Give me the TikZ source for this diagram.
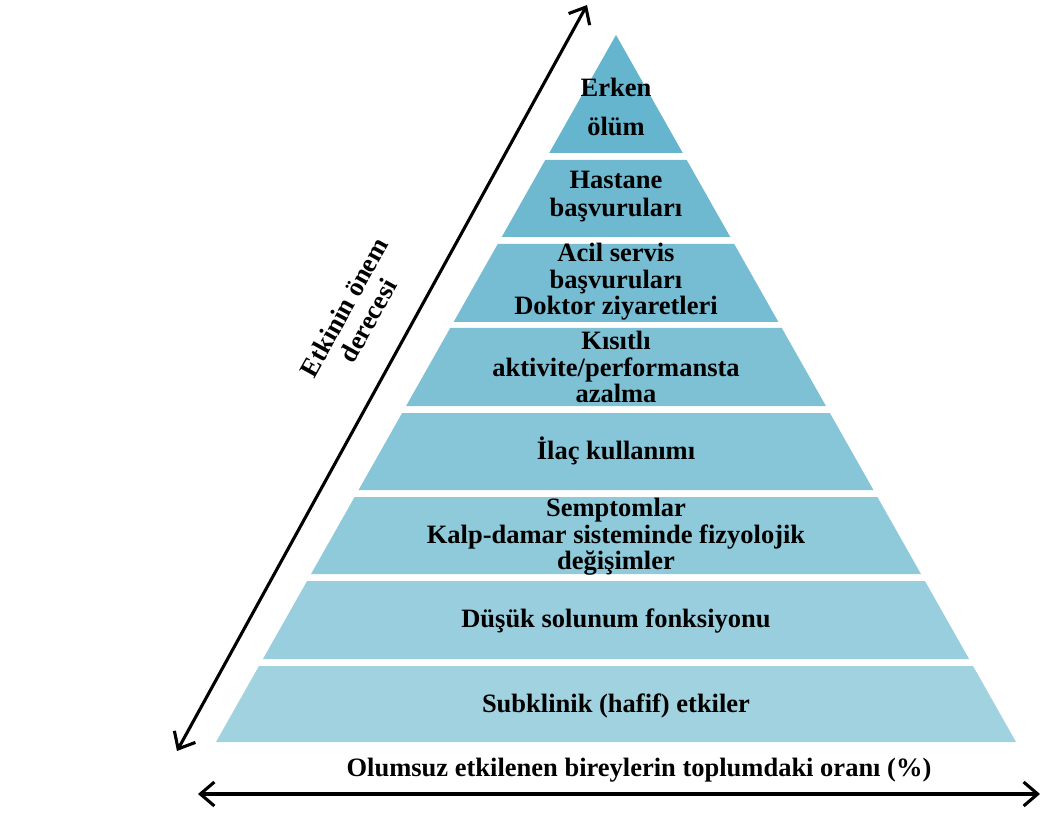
\documentclass[tikz,border=0pt]{standalone}
\usepackage{fontspec}
\setmainfont{Liberation Serif}
\usetikzlibrary{arrows.meta}
\definecolor{b1}{RGB}{101,181,206}
\definecolor{b2}{RGB}{110,185,208}
\definecolor{b3}{RGB}{118,189,211}
\definecolor{b4}{RGB}{126,193,213}
\definecolor{b5}{RGB}{135,197,216}
\definecolor{b6}{RGB}{143,202,218}
\definecolor{b7}{RGB}{152,206,221}
\definecolor{b8}{RGB}{160,210,223}
\newcommand\pyrband[3]{%
  \fill[#3] ({616-0.5658*(#1-35)},#1) -- ({616+0.5658*(#1-35)},#1)
    -- ({616+0.5658*(#2-35)},#2) -- ({616-0.5658*(#2-35)},#2) -- cycle;}
\tikzset{
  lbl/.style={font=\bfseries\fontsize{26.5}{26.5}\selectfont, align=center, inner sep=0pt, text=black},
  axis/.style={line width=3.1pt, {Straight Barb[length=14pt,width=24pt]}-{Straight Barb[length=14pt,width=24pt]}}
}
\begin{document}
\begin{tikzpicture}[x=1pt,y=-1pt]
\useasboundingbox (0,0) rectangle (1042,818);
\fill[white] (0,0) rectangle (1042,818);
\pyrband{35}{153}{b1}
\pyrband{160}{237}{b2}
\pyrband{244}{322}{b3}
\pyrband{328}{406}{b4}
\pyrband{413}{490}{b5}
\pyrband{497}{574}{b6}
\pyrband{581}{659}{b7}
\pyrband{666}{742}{b8}
\node[lbl] (t1) at (616,107) {Erken\\[13pt]ölüm};
\node[lbl] (t2) at (616,197) {Hastane\\[1.5pt]başvuruları};
\node[lbl] (t3) at (616,282) {Acil servis\\başvuruları\\Doktor ziyaretleri};
\node[lbl] (t4) at (616,367) {Kısıtlı\\aktivite/performansta\\azalma};
\node[lbl] (t5) at (616,451) {İlaç kullanımı};
\node[lbl] (t6) at (616,537) {Semptomlar\\Kalp-damar sisteminde fizyolojik\\değişimler};
\node[lbl] (t7) at (616,621) {Düşük solunum fonksiyonu};
\node[lbl] (t8) at (616,706) {Subklinik (hafif) etkiler};
\node[lbl] (xl) at (639,770) {Olumsuz etkilenen bireylerin toplumdaki oranı (\%)};
\node[lbl, rotate=61] (yl) at (356,314) {Etkinin önem\\[1pt]derecesi};
\coordinate (a1) at (177,751);
\coordinate (a2) at (587,5);
\coordinate (h1) at (198,794);
\coordinate (h2) at (1040,794);
\draw[axis] (a1) -- (a2);
\draw[axis] (h1) -- (h2);
\end{tikzpicture}
\end{document}
